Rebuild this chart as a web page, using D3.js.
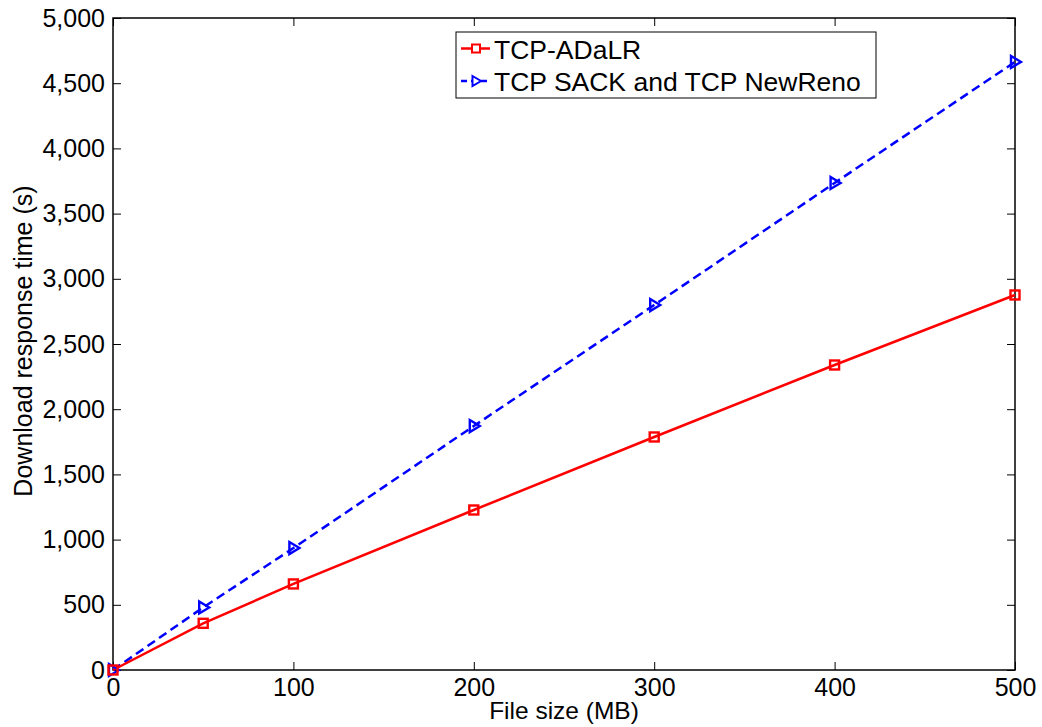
<!DOCTYPE html>
<html>
<head>
<meta charset="utf-8">
<script src="https://cdn.jsdelivr.net/npm/d3@7"></script>
<style>
  body { margin: 0; background: #fff; }
  text { font-family: "Liberation Sans", Arial, sans-serif; }
</style>
</head>
<body>
<div id="chart"></div>
<script>
var w = 1042, h = 727;
var margin = {left: 113, right: 27, top: 18, bottom: 57};

// data
var fileSizes = [0, 50, 100, 200, 300, 400, 500];
var adalr = [0, 358, 660, 1227, 1787, 2339, 2876];
var sackNewReno = [0, 480, 935, 1871, 2799, 3735, 4663];
var xTicks = [0, 100, 200, 300, 400, 500];
var yTicks = [0, 500, 1000, 1500, 2000, 2500, 3000, 3500, 4000, 4500, 5000];
var seriesNames = ["TCP-ADaLR", "TCP SACK and TCP NewReno"];

var xScale = d3.scaleLinear().domain([0, 500]).range([margin.left, w - margin.right]);
var yScale = d3.scaleLinear().domain([0, 5000]).range([h - margin.bottom, margin.top]);

var svg = d3.select("#chart").append("svg")
    .attr("width", w)
    .attr("height", h);

var fmt = d3.format(",");

// axes (MATLAB style: ticks inward on all four sides)
svg.append("g")
    .attr("transform", "translate(0," + yScale(0) + ")")
    .call(d3.axisBottom(xScale).tickValues(xTicks).tickSize(-8).tickPadding(8).tickFormat(fmt))
    .call(function(g) { g.select(".domain").remove(); })
    .style("font-size", "25px");
svg.append("g")
    .attr("transform", "translate(0," + yScale(5000) + ")")
    .call(d3.axisTop(xScale).tickValues(xTicks).tickSize(-8).tickFormat(""))
    .call(function(g) { g.select(".domain").remove(); });
svg.append("g")
    .attr("transform", "translate(" + xScale(0) + ",0)")
    .call(d3.axisLeft(yScale).tickValues(yTicks).tickSize(-8).tickPadding(8).tickFormat(fmt))
    .call(function(g) { g.select(".domain").remove(); })
    .style("font-size", "25px");
svg.append("g")
    .attr("transform", "translate(" + xScale(500) + ",0)")
    .call(d3.axisRight(yScale).tickValues(yTicks).tickSize(-8).tickFormat(""))
    .call(function(g) { g.select(".domain").remove(); });

svg.selectAll(".tick line").attr("stroke", "#000").attr("stroke-width", 1);
svg.selectAll(".tick text").attr("fill", "#000");

// box
svg.append("rect")
    .attr("x", xScale(0))
    .attr("y", yScale(5000))
    .attr("width", xScale(500) - xScale(0))
    .attr("height", yScale(0) - yScale(5000))
    .attr("fill", "none")
    .attr("stroke", "#000")
    .attr("stroke-width", 1.5);

// lines
var line = d3.line()
    .x(function(d) { return xScale(d[0]); })
    .y(function(d) { return yScale(d[1]); });

var redData = fileSizes.map(function(x, i) { return [x, adalr[i]]; });
var blueData = fileSizes.map(function(x, i) { return [x, sackNewReno[i]]; });

svg.append("path")
    .datum(blueData)
    .attr("fill", "none")
    .attr("stroke", "#0000ff")
    .attr("stroke-width", 2.5)
    .attr("stroke-dasharray", "9,5")
    .attr("d", line);

svg.append("path")
    .datum(redData)
    .attr("fill", "none")
    .attr("stroke", "#ff0000")
    .attr("stroke-width", 2.5)
    .attr("d", line);

var triPath = "M-4,-6L6,0L-4,6Z";

svg.selectAll(".tri")
    .data(blueData)
    .enter().append("path")
    .attr("class", "tri")
    .attr("transform", function(d) { return "translate(" + xScale(d[0]) + "," + yScale(d[1]) + ")"; })
    .attr("d", triPath)
    .attr("fill", "none")
    .attr("stroke", "#0000ff")
    .attr("stroke-width", 2.4);

svg.selectAll(".sq")
    .data(redData)
    .enter().append("rect")
    .attr("class", "sq")
    .attr("x", function(d) { return xScale(d[0]) - 4.5; })
    .attr("y", function(d) { return yScale(d[1]) - 4.5; })
    .attr("width", 9)
    .attr("height", 9)
    .attr("fill", "none")
    .attr("stroke", "#ff0000")
    .attr("stroke-width", 2.4);

// legend
var legend = svg.append("g").attr("transform", "translate(456,32)");
legend.append("rect")
    .attr("width", 420)
    .attr("height", 66)
    .attr("fill", "#fff")
    .attr("stroke", "#000")
    .attr("stroke-width", 1);

var legendRows = [
    {name: seriesNames[0], color: "#ff0000", dash: null, y: 16.5},
    {name: seriesNames[1], color: "#0000ff", dash: "6,4", y: 49}
];
legendRows.forEach(function(r, i) {
    legend.append("line")
        .attr("x1", 5).attr("x2", 34)
        .attr("y1", r.y).attr("y2", r.y)
        .attr("stroke", r.color)
        .attr("stroke-width", 2.5)
        .attr("stroke-dasharray", r.dash);
    if (i === 0) {
        legend.append("rect")
            .attr("x", 20 - 4).attr("y", r.y - 4)
            .attr("width", 8).attr("height", 8)
            .attr("fill", "#fff")
            .attr("stroke", r.color).attr("stroke-width", 2);
    } else {
        legend.append("path")
            .attr("transform", "translate(20," + r.y + ")")
            .attr("d", "M-3.5,-5L5,0L-3.5,5Z")
            .attr("fill", "#fff")
            .attr("stroke", r.color).attr("stroke-width", 2);
    }
    legend.append("text")
        .attr("x", 38)
        .attr("y", r.y + 10)
        .style("font-size", "26.5px")
        .text(r.name);
});

// axis labels
svg.append("text")
    .attr("x", (xScale(0) + xScale(500)) / 2)
    .attr("y", 719)
    .attr("text-anchor", "middle")
    .style("font-size", "24.5px")
    .text("File size (MB)");

svg.append("text")
    .attr("text-anchor", "middle")
    .attr("transform", "rotate(-90)")
    .attr("x", -341)
    .attr("y", 32)
    .style("font-size", "25px")
    .text("Download response time (s)");
</script>
</body>
</html>
